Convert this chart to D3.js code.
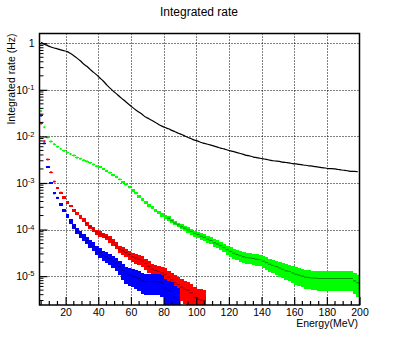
<!DOCTYPE html>
<html>
<head>
<meta charset="utf-8">
<script src="https://cdn.jsdelivr.net/npm/d3@7"></script>
<style>
  body { margin: 0; background: #fff; }
  svg { display: block; font-family: "Liberation Sans", Arial, Helvetica, sans-serif; }
</style>
</head>
<body>
<div id="chart"></div>
<script>
// integrated rate histograms, 2 MeV bins from 4 to 200 MeV
const binWidth = 2;
const binLow = d3.range(4, 200, binWidth);

const blackRate = [
  1.05, 0.955, 0.89, 0.83, 0.79, 0.76, 0.72, 0.69, 0.66, 0.60,
  0.54, 0.48, 0.42, 0.36, 0.32, 0.275, 0.24, 0.21, 0.18, 0.155,
  0.13, 0.11, 0.095, 0.083, 0.072, 0.063, 0.055, 0.048, 0.042, 0.037,
  0.033, 0.0295, 0.026, 0.024, 0.022, 0.020, 0.018, 0.0166, 0.0155, 0.0146,
  0.0135, 0.0126, 0.0117, 0.011, 0.0102, 0.0095, 0.0089, 0.0083, 0.0079, 0.0074,
  0.0071, 0.0068, 0.0065, 0.0062, 0.0059, 0.0056, 0.0054, 0.0051, 0.0049, 0.0047,
  0.0045, 0.0043, 0.0041, 0.0039, 0.0038, 0.0036, 0.0035, 0.0034, 0.0033, 0.0032,
  0.0031, 0.0030, 0.00295, 0.0029, 0.0028, 0.00275, 0.0027, 0.0026, 0.00257, 0.0025,
  0.00245, 0.0024, 0.00234, 0.0023, 0.00224, 0.0022, 0.00214, 0.0021, 0.00204, 0.00204,
  0.0020, 0.00195, 0.0019, 0.00186, 0.00182, 0.00178, 0.00178, 0.00174
];

const greenRate = [
  0.035, 0.0158, 0.0095, 0.0078, 0.0068, 0.0060, 0.0054, 0.0049, 0.0045, 0.0042,
  0.0039, 0.0035, 0.0033, 0.0031, 0.0029, 0.0027, 0.0025, 0.0023, 0.0022, 0.0020,
  0.0018, 0.00166, 0.00148, 0.00135, 0.0012, 0.00105, 9.3e-4, 8.1e-4, 6.9e-4, 6.0e-4,
  5.1e-4, 4.4e-4, 3.8e-4, 3.3e-4, 2.95e-4, 2.6e-4, 2.35e-4, 2.1e-4, 1.9e-4, 1.74e-4,
  1.55e-4, 1.38e-4, 1.26e-4, 1.15e-4, 1.07e-4, 9.8e-5, 9.1e-5, 8.3e-5, 7.8e-5, 7.2e-5,
  6.8e-5, 6.2e-5, 5.8e-5, 5.2e-5, 4.9e-5, 4.5e-5, 4.1e-5, 3.7e-5, 3.4e-5, 3.1e-5,
  2.9e-5, 2.75e-5, 2.6e-5, 2.5e-5, 2.45e-5, 2.4e-5, 2.3e-5, 2.25e-5, 2.1e-5, 1.95e-5,
  1.8e-5, 1.7e-5, 1.6e-5, 1.5e-5, 1.4e-5, 1.3e-5, 1.26e-5, 1.17e-5, 1.1e-5, 1.05e-5,
  1.0e-5, 9.5e-6, 9.3e-6, 9.1e-6, 9.1e-6, 8.9e-6, 8.9e-6, 8.9e-6, 8.9e-6, 8.9e-6,
  8.9e-6, 8.9e-6, 8.9e-6, 8.9e-6, 8.9e-6, 8.9e-6, 7.9e-6, 7.2e-6
];

const redRate = [
  0.019, 0.0079, 0.0032, 0.0017, 0.00107, 7.8e-4, 6.2e-4, 4.9e-4, 3.8e-4, 3.2e-4,
  2.6e-4, 2.2e-4, 1.86e-4, 1.58e-4, 1.35e-4, 1.15e-4, 1.0e-4, 8.9e-5, 8.1e-5, 7.6e-5,
  6.9e-5, 6.2e-5, 5.4e-5, 4.6e-5, 3.8e-5, 3.5e-5, 3.2e-5, 2.9e-5, 2.6e-5, 2.45e-5,
  2.3e-5, 2.1e-5, 1.86e-5, 1.62e-5, 1.41e-5, 1.32e-5, 1.26e-5, 1.17e-5, 1.1e-5, 9.5e-6,
  8.3e-6, 7.2e-6, 6.6e-6, 5.8e-6, 5.2e-6, 5.0e-6, 4.4e-6, 3.5e-6, 3.2e-6, 3.1e-6,
  3.0e-6
];

const blueRate = [
  0.028, 0.0071, 0.0022, 0.0010, 6.0e-4, 4.8e-4, 3.5e-4, 2.6e-4, 2.0e-4, 1.5e-4,
  1.15e-4, 9.3e-5, 7.9e-5, 6.8e-5, 5.8e-5, 5.0e-5, 4.4e-5, 3.7e-5, 3.2e-5, 2.8e-5,
  2.6e-5, 2.35e-5, 2.1e-5, 1.9e-5, 1.6e-5, 1.32e-5, 1.12e-5, 1.05e-5, 1.0e-5, 9.5e-6,
  8.9e-6, 7.9e-6, 7.6e-6, 7.6e-6, 7.6e-6, 7.6e-6, 7.6e-6, 7.2e-6, 5.6e-6, 5.0e-6,
  4.7e-6, 3.5e-6, 3.1e-6
];

// rate carried by one event (sets the statistical error bars)
const eventWeight = { black: 1e-7, green: 1.8e-6, red: 1.4e-6, blue: 1.8e-6 };

const xMajor = [20, 40, 60, 80, 100, 120, 140, 160, 180, 200];
const yMajor = [1, 1e-1, 1e-2, 1e-3, 1e-4, 1e-5];

const W = 399, H = 339;
const frame = { left: 39.5, right: 359.5, top: 33.5, bottom: 305 };
const yMin = 2.4e-6, yMax = 1.62;

const svg = d3.select('#chart').append('svg')
  .attr('width', W).attr('height', H);

const x = d3.scaleLinear().domain([4, 200]).range([frame.left, frame.right]);
const y = d3.scaleLog().domain([yMin, yMax]).range([frame.bottom, frame.top]);

// title
svg.append('text')
  .attr('x', 199).attr('y', 16)
  .attr('text-anchor', 'middle')
  .style('font-size', '12px')
  .text('Integrated rate');

// grid
const grid = svg.append('g')
  .attr('stroke', '#000').attr('stroke-width', 1).attr('stroke-dasharray', '1,2');
grid.selectAll('line.gx').data(xMajor.filter(d => d < 200)).enter().append('line')
  .attr('x1', d => Math.round(x(d)) + 0.5).attr('x2', d => Math.round(x(d)) + 0.5)
  .attr('y1', frame.top).attr('y2', frame.bottom);
grid.selectAll('line.gy').data(yMajor).enter().append('line')
  .attr('y1', d => Math.round(y(d)) + 0.5).attr('y2', d => Math.round(y(d)) + 0.5)
  .attr('x1', frame.left).attr('x2', frame.right);

// clip to the frame
svg.append('clipPath').attr('id', 'clip')
  .append('rect')
  .attr('x', frame.left).attr('y', frame.top)
  .attr('width', frame.right - frame.left).attr('height', frame.bottom - frame.top);

const plot = svg.append('g').attr('clip-path', 'url(#clip)');

function toBins(rates, weight) {
  return rates.map((v, i) => {
    const e = Math.sqrt(v * weight);
    return {
      x0: binLow[i], x1: binLow[i] + binWidth, v: v,
      hi: v + e, lo: Math.max(v - e, yMin * 0.3)
    };
  });
}

// black: dense bins, looks like a line
const blackBins = toBins(blackRate, eventWeight.black);
plot.append('path')
  .datum(blackBins)
  .attr('fill', 'none')
  .attr('stroke', '#000')
  .attr('stroke-width', 1.2)
  .attr('d', d3.line().curve(d3.curveMonotoneX).x(d => x((d.x0 + d.x1) / 2)).y(d => y(d.v)));

function drawSeries(rates, color, weight) {
  const bins = toBins(rates, weight);
  const g = plot.append('g');
  g.selectAll('rect.err').data(bins).enter().append('rect')
    .attr('x', d => x(d.x0))
    .attr('width', d => x(d.x1) - x(d.x0) + 0.4)
    .attr('y', d => y(d.hi))
    .attr('height', d => y(d.lo) - y(d.hi))
    .attr('fill', color)
    .attr('shape-rendering', 'crispEdges');
  g.selectAll('rect.mk').data(bins).enter().append('rect')
    .attr('x', d => x((d.x0 + d.x1) / 2) - 1)
    .attr('y', d => y(d.v) - 1)
    .attr('width', 2).attr('height', 2)
    .attr('fill', color);
  g.selectAll('line').data(bins.filter(d => y(d.lo) - y(d.hi) > 4)).enter().append('line')
    .attr('x1', d => x(d.x0)).attr('x2', d => x(d.x1))
    .attr('y1', d => y(d.v)).attr('y2', d => y(d.v))
    .attr('stroke', '#000').attr('stroke-opacity', 0.45).attr('stroke-width', 1);
}

drawSeries(greenRate, '#00ff00', eventWeight.green);
drawSeries(redRate, '#ff0000', eventWeight.red);
drawSeries(blueRate, '#0000ff', eventWeight.blue);

// axes, ticks inside the frame
const xMinor = d3.range(5, 200, 5).filter(d => xMajor.indexOf(d) < 0);
const xAxis = d3.axisBottom(x).tickValues(xMajor).tickSizeInner(-8).tickSizeOuter(0)
  .tickPadding(4).tickFormat(d3.format('d'));
const gx = svg.append('g').attr('transform', `translate(0,${frame.bottom})`).call(xAxis);
gx.select('.domain').remove();
gx.selectAll('text').style('font-size', '10.5px').attr('dy', '0.71em');
gx.selectAll('.tick line').attr('stroke-width', 1.2);
svg.append('g').selectAll('line').data(xMinor).enter().append('line')
  .attr('x1', d => x(d)).attr('x2', d => x(d))
  .attr('y1', frame.bottom).attr('y2', frame.bottom - 4)
  .attr('stroke', '#000').attr('stroke-width', 1.2);

const yMinor = [];
for (let k = -6; k <= 0; k++) {
  for (let m = 2; m <= 9; m++) {
    const v = m * Math.pow(10, k);
    if (v > yMin && v < yMax) yMinor.push(v);
  }
}
const yAxis = d3.axisLeft(y).tickValues(yMajor).tickSizeInner(-8).tickSizeOuter(0)
  .tickPadding(5);
const gy = svg.append('g').attr('transform', `translate(${frame.left},0)`).call(yAxis);
gy.select('.domain').remove();
gy.selectAll('.tick line').attr('stroke-width', 1.2);
gy.selectAll('text').each(function (d) {
  const t = d3.select(this).text('').style('font-size', '10.5px');
  const exp = Math.round(Math.log10(d));
  if (exp === 0) {
    t.text('1');
  } else {
    t.append('tspan').text('10');
    t.append('tspan').attr('dy', '-0.5em').style('font-size', '7.5px').text(exp);
  }
});
svg.append('g').selectAll('line').data(yMinor).enter().append('line')
  .attr('x1', frame.left).attr('x2', frame.left + 4)
  .attr('y1', d => y(d)).attr('y2', d => y(d))
  .attr('stroke', '#000').attr('stroke-width', 1);

// frame
svg.append('rect')
  .attr('x', frame.left).attr('y', frame.top)
  .attr('width', frame.right - frame.left).attr('height', frame.bottom - frame.top)
  .attr('fill', 'none').attr('stroke', '#000').attr('stroke-width', 1.5);

// axis titles
svg.append('text')
  .attr('x', 358).attr('y', 327)
  .attr('text-anchor', 'end')
  .style('font-size', '10.5px')
  .text('Energy(MeV)');

svg.append('text')
  .attr('transform', `translate(15,${frame.top}) rotate(-90)`)
  .attr('text-anchor', 'end')
  .style('font-size', '10.5px')
  .text('Integrated rate (Hz)');
</script>
</body>
</html>
